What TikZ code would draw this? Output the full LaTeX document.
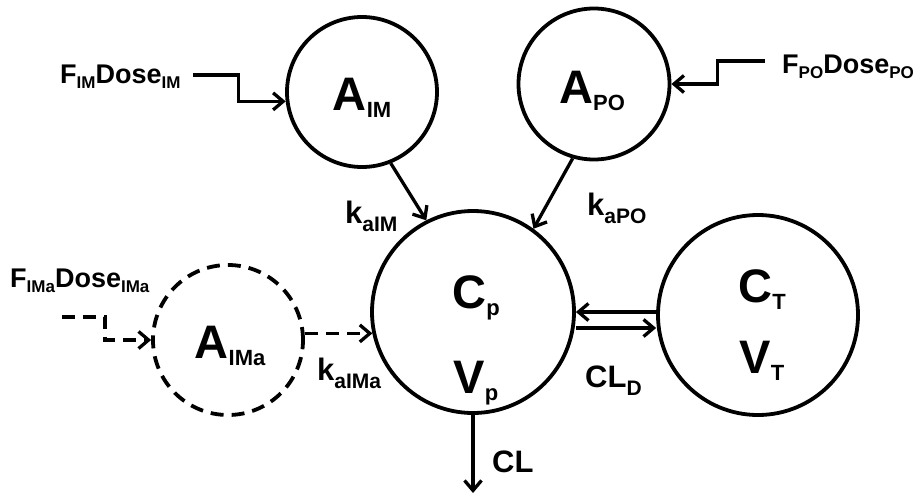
\documentclass[tikz,border=0pt]{standalone}
\usepackage{fontspec}
\setmainfont{Liberation Sans}
\usetikzlibrary{arrows.meta}

% main text with a lowered subscript: size, text, sub size, sub text, drop (pt)
\newcommand{\withsub}[5]{{\fontsize{#1}{#1}\selectfont #2}\raisebox{-#5pt}{\fontsize{#3}{#3}\selectfont #4}}

\begin{document}
\begin{tikzpicture}[x=1pt, y=-1pt,
  comp/.style={circle, draw, line width=3.8pt, inner sep=0pt},
  dcomp/.style={comp, dash pattern=on 13pt off 8pt},
  txt/.style={inner sep=0pt, font=\bfseries},
  arr/.style={line width=3.3pt, -{Straight Barb[length=10pt, width=17pt, line width=3.3pt]}},
  darr/.style={arr, dash pattern=on 13pt off 8pt},
  ]
  \useasboundingbox (0,0) rectangle (920,493);

  % compartments
  \node[comp, minimum size=150pt] (aim) at (362,92) {};
  \node[comp, minimum size=151pt] (apo) at (594,84) {};
  \node[comp, minimum size=202pt] (cp) at (473,312) {};
  \node[comp, minimum size=200pt] (ct) at (758,315) {};
  \node[dcomp, minimum size=150pt] (aima) at (228,340) {};

  % compartment labels
  \node[txt, anchor=base] (taim) at (362,110) {\withsub{47}{A}{22}{IM}{7}};
  \node[txt, anchor=base] (tapo) at (592,103) {\withsub{47}{A}{22}{PO}{7}};
  \node[txt, anchor=base] (tcp) at (476,308) {\withsub{47}{C}{22}{p}{7}};
  \node[txt, anchor=base] (tvp) at (476,393) {\withsub{47}{V}{22}{p}{7}};
  \node[txt, anchor=base] (tct) at (762,302) {\withsub{47}{C}{22}{T}{7}};
  \node[txt, anchor=base] (tvt) at (762,373) {\withsub{47}{V}{22}{T}{7}};
  \node[txt, anchor=base] (taima) at (230,358) {\withsub{47}{A}{22}{IMa}{7}};

  % dose inputs
  \node[txt, anchor=base west] (fim) at (60,83) {\withsub{27}{F}{17}{IM}{5}\withsub{27}{Dose}{17}{IM}{5}};
  \node[txt, anchor=base west] (fpo) at (782,73) {\withsub{27}{F}{17}{PO}{5}\withsub{27}{Dose}{17}{PO}{5}};
  \node[txt, anchor=base west] (fima) at (10,287) {\withsub{27}{F}{17}{IMa}{5}\withsub{27}{Dose}{17}{IMa}{5}};

  % rate constants and clearances
  \node[txt, anchor=base west] (kaim) at (345,223) {\withsub{31}{k}{21}{aIM}{8}};
  \node[txt, anchor=base west] (kapo) at (587,215) {\withsub{31}{k}{21}{aPO}{8}};
  \node[txt, anchor=base west] (kaima) at (317,380) {\withsub{31}{k}{21}{aIMa}{8}};
  \node[txt, anchor=base west] (cld) at (585,387) {\withsub{31}{CL}{21}{D}{8}};
  \node[txt, anchor=base west] (cl) at (492,472) {{\fontsize{31}{31}\selectfont CL}};

  % free ends of the input and output lines
  \coordinate (fimin) at (193,75);
  \coordinate (fpoin) at (765,61);
  \coordinate (fimain) at (62,317);
  \coordinate (clout) at (473,493);

  % dosing steps
  \draw[arr] (fimin) -| ([xshift=-47pt]aim.187) -- (aim.187);
  \draw[arr] (fpoin) -| ([xshift=46pt]apo.east) -- (apo.east);
  \draw[darr] (fimain) -| ([xshift=-46pt]aima.west) -- (aima.west);

  % absorption
  \draw[arr] (aim.-68) -- (cp.117);
  \draw[arr] (apo.-106) -- (cp.54);
  \draw[darr] (aima.east |- cp.192) -- (cp.192);

  % distribution and elimination
  \draw[arr] (ct.west |- cp.east) -- (cp.east);
  \draw[arr] ([yshift=-16pt]cp.east) -- ([yshift=-16pt]cp.east -| ct.west);
  \draw[arr] (cp.south) -- (clout);
\end{tikzpicture}
\end{document}
